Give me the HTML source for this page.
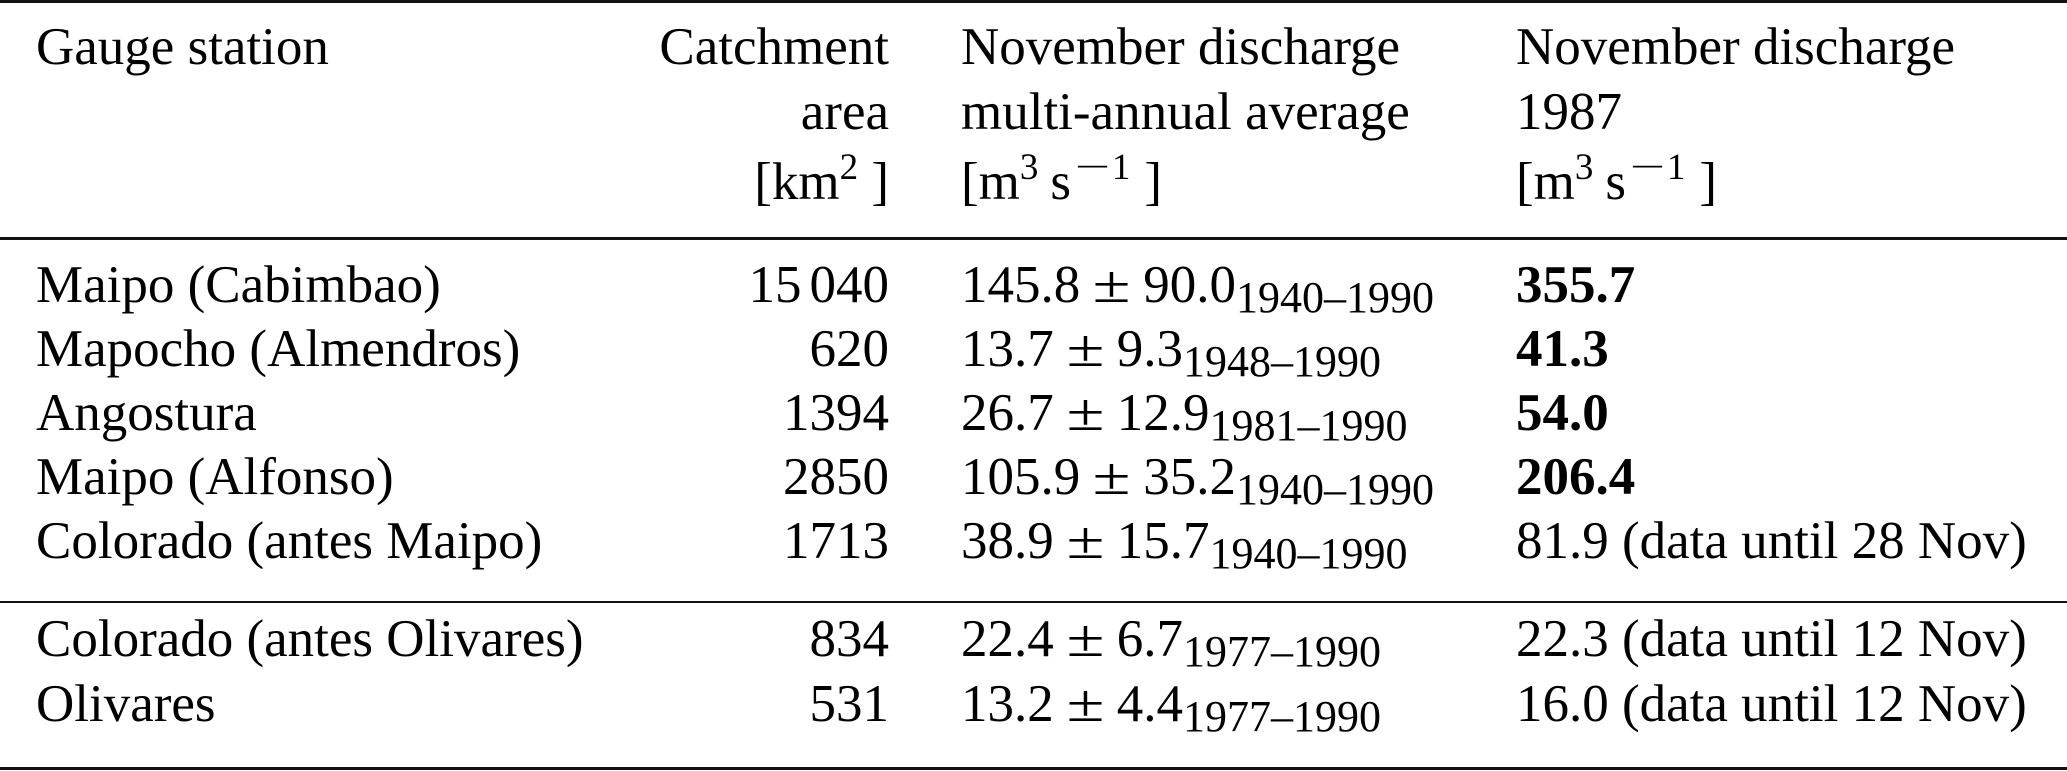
<!DOCTYPE html>
<html>
<head>
<meta charset="utf-8">
<style>
html,body{margin:0;padding:0;}
body{width:2067px;height:771px;background:#fff;position:relative;overflow:hidden;font-family:"Liberation Serif","Times New Roman",serif;font-size:53px;color:#000;}
.t{position:absolute;line-height:64px;white-space:nowrap;}
.c1{left:36px;}
.c2{right:1178px;text-align:right;}
.c3{left:961px;}
.c4{left:1516px;}
.r{position:absolute;left:0;width:2067px;height:2.6px;background:#111;}
sup{font-size:37px;position:relative;top:-20px;vertical-align:baseline;line-height:0;}
sub{font-size:44px;position:relative;top:10px;vertical-align:baseline;line-height:0;}
.pm{display:inline-block;width:63px;text-align:center;}
.pm span{display:inline-block;transform:scaleX(1.3);}
.mn{display:inline-block;transform:scaleX(1.7);margin-left:11px;margin-right:9px;}
b{font-weight:bold;}
.ts{display:inline-block;width:8px;}
</style>
</head>
<body>
<div class="r" style="top:0;"></div>
<div class="r" style="top:237px;"></div>
<div class="r" style="top:601px;height:2px;"></div>
<div class="r" style="top:767px;"></div>

<!-- header line 1 -->
<div class="t c1" style="top:15px;">Gauge station</div>
<div class="t c2" style="top:15px;">Catchment</div>
<div class="t c3" style="top:15px;">November discharge</div>
<div class="t c4" style="top:15px;">November discharge</div>
<!-- header line 2 -->
<div class="t c2" style="top:80px;">area</div>
<div class="t c3" style="top:80px;">multi-annual average</div>
<div class="t c4" style="top:80px;">1987</div>
<!-- header line 3 -->
<div class="t c2" style="top:150px;">[km<sup>2</sup> ]</div>
<div class="t c3" style="top:150px;">[m<sup>3</sup><span style="margin-left:12px">s</span><sup><span class="mn">−</span>1</sup><span style="margin-left:14px">]</span></div>
<div class="t c4" style="top:150px;">[m<sup>3</sup><span style="margin-left:12px">s</span><sup><span class="mn">−</span>1</sup><span style="margin-left:14px">]</span></div>

<!-- body rows -->
<div class="t c1" style="top:253px;">Maipo (Cabimbao)</div>
<div class="t c2" style="top:253px;">15<span class="ts"></span>040</div>
<div class="t c3" style="top:253px;">145.8<span class="pm"><span>±</span></span>90.0<sub>1940–1990</sub></div>
<div class="t c4" style="top:253px;"><b>355.7</b></div>

<div class="t c1" style="top:317px;">Mapocho (Almendros)</div>
<div class="t c2" style="top:317px;">620</div>
<div class="t c3" style="top:317px;">13.7<span class="pm"><span>±</span></span>9.3<sub>1948–1990</sub></div>
<div class="t c4" style="top:317px;"><b>41.3</b></div>

<div class="t c1" style="top:381px;">Angostura</div>
<div class="t c2" style="top:381px;">1394</div>
<div class="t c3" style="top:381px;">26.7<span class="pm"><span>±</span></span>12.9<sub>1981–1990</sub></div>
<div class="t c4" style="top:381px;"><b>54.0</b></div>

<div class="t c1" style="top:445px;">Maipo (Alfonso)</div>
<div class="t c2" style="top:445px;">2850</div>
<div class="t c3" style="top:445px;">105.9<span class="pm"><span>±</span></span>35.2<sub>1940–1990</sub></div>
<div class="t c4" style="top:445px;"><b>206.4</b></div>

<div class="t c1" style="top:509px;">Colorado (antes Maipo)</div>
<div class="t c2" style="top:509px;">1713</div>
<div class="t c3" style="top:509px;">38.9<span class="pm"><span>±</span></span>15.7<sub>1940–1990</sub></div>
<div class="t c4" style="top:509px;">81.9 (data until 28 Nov)</div>

<div class="t c1" style="top:607px;">Colorado (antes Olivares)</div>
<div class="t c2" style="top:607px;">834</div>
<div class="t c3" style="top:607px;">22.4<span class="pm"><span>±</span></span>6.7<sub>1977–1990</sub></div>
<div class="t c4" style="top:607px;">22.3 (data until 12 Nov)</div>

<div class="t c1" style="top:672px;">Olivares</div>
<div class="t c2" style="top:672px;">531</div>
<div class="t c3" style="top:672px;">13.2<span class="pm"><span>±</span></span>4.4<sub>1977–1990</sub></div>
<div class="t c4" style="top:672px;">16.0 (data until 12 Nov)</div>
</body>
</html>
